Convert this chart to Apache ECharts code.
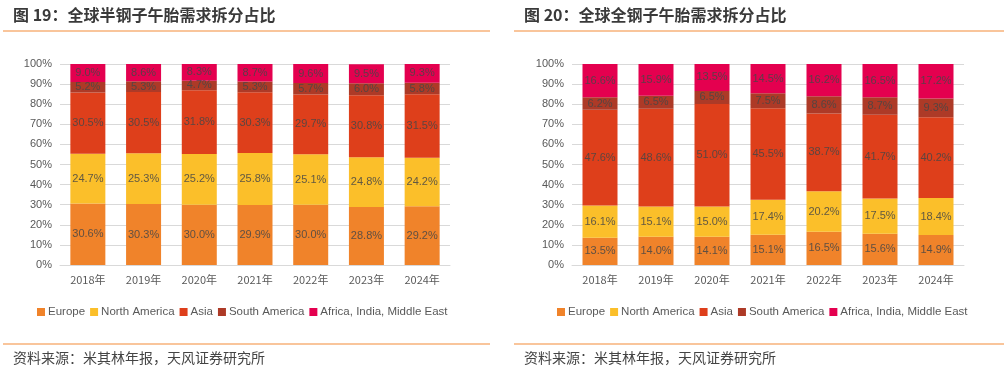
<!DOCTYPE html>
<html><head><meta charset="utf-8">
<script src="https://cdn.jsdelivr.net/npm/echarts@6/dist/echarts.min.js"></script>
<style>html,body{margin:0;padding:0;background:#fff}#c{width:1004px;height:375px}</style>
</head><body><div id="c"></div>
<script>
const years = ['2018年','2019年','2020年','2021年','2022年','2023年','2024年'];
const seriesNames = ['Europe','North America','Asia','South America','Africa, India, Middle East'];
// 图19 半钢
const semiEurope = [30.6,30.3,30.0,29.9,30.0,28.8,29.2];
const semiNA = [24.7,25.3,25.2,25.8,25.1,24.8,24.2];
const semiAsia = [30.5,30.5,31.8,30.3,29.7,30.8,31.5];
const semiSA = [5.2,5.3,4.7,5.3,5.7,6.0,5.8];
const semiAIME = [9.0,8.6,8.3,8.7,9.6,9.5,9.3];
// 图20 全钢
const allEurope = [13.5,14.0,14.1,15.1,16.5,15.6,14.9];
const allNA = [16.1,15.1,15.0,17.4,20.2,17.5,18.4];
const allAsia = [47.6,48.6,51.0,45.5,38.7,41.7,40.2];
const allSA = [6.2,6.5,6.5,7.5,8.6,8.7,9.3];
const allAIME = [16.6,15.9,13.5,14.5,16.2,16.5,17.2];

const colors = ['#F0832A','#FBBF2A','#DE3F1B','#AD3A27','#E4004F'];
const semi = [semiEurope,semiNA,semiAsia,semiSA,semiAIME];
const all = [allEurope,allNA,allAsia,allSA,allAIME];
const txt = '#595959';
const lineCol = '#F7B27A';

function mkSeries(data, idx){
  return data.map((d,i)=>({
    name: seriesNames[i], type:'bar', stack:'s'+idx, xAxisIndex:idx, yAxisIndex:idx,
    barWidth:35, data:d, itemStyle:{color:colors[i]},
    label:{show:true, position:'inside', formatter:p=>p.value.toFixed(1)+'%', color:'rgba(70,70,70,0.85)', fontSize:11, fontFamily:'Liberation Sans, Arial'}
  }));
}
function yAx(idx){return {gridIndex:idx,type:'value',min:0,max:100,interval:10,
  axisLabel:{formatter:'{value}%',color:txt,fontSize:11,margin:8,fontFamily:'Liberation Sans, Arial'},
  splitLine:{lineStyle:{color:'#D9D9D9'}},axisLine:{show:false},axisTick:{show:false}};}
function xAx(idx){return {gridIndex:idx,type:'category',data:years,
  axisLabel:{color:txt,fontSize:11,margin:9,fontFamily:'Noto Sans CJK SC'},
  axisLine:{lineStyle:{color:'#D9D9D9'}},axisTick:{show:false}};}
function leg(idx){return {top:301,itemWidth:8,itemHeight:8,itemGap:5,icon:'rect',
  textStyle:{color:txt,fontSize:11.5,fontFamily:'Liberation Sans, Arial',padding:[0,0,0,-2]},
  data:seriesNames, selectedMode:false};}

const chart = echarts.init(document.getElementById('c'));
chart.setOption({
  animation:false,
  grid:[{left:60,top:64,width:390,height:201},{left:572,top:64,width:392,height:201}],
  xAxis:[xAx(0),xAx(1)], yAxis:[yAx(0),yAx(1)],
  legend:[{...leg(0),left:32},{...leg(1),left:552}],
  series:[...mkSeries(semi,0),...mkSeries(all,1)],
  graphic:[
    {type:'text',left:13,top:7,style:{text:'图 19：全球半钢子午胎需求拆分占比',fill:'#3a3a3a',font:'bold 16px "Noto Sans CJK SC"'}},
    {type:'text',left:524,top:7,style:{text:'图 20：全球全钢子午胎需求拆分占比',fill:'#3a3a3a',font:'bold 16px "Noto Sans CJK SC"'}},
    {type:'line',shape:{x1:3,y1:31,x2:490,y2:31},style:{stroke:lineCol,lineWidth:1.5}},
    {type:'line',shape:{x1:514,y1:31,x2:1004,y2:31},style:{stroke:lineCol,lineWidth:1.5}},
    {type:'line',shape:{x1:3,y1:344,x2:490,y2:344},style:{stroke:lineCol,lineWidth:1.5}},
    {type:'line',shape:{x1:514,y1:344,x2:1004,y2:344},style:{stroke:lineCol,lineWidth:1.5}},
    {type:'text',left:13,top:351,style:{text:'资料来源：米其林年报，天风证券研究所',fill:'#444',font:'14px "Noto Sans CJK SC"'}},
    {type:'text',left:524,top:351,style:{text:'资料来源：米其林年报，天风证券研究所',fill:'#444',font:'14px "Noto Sans CJK SC"'}}
  ]
});
</script></body></html>
